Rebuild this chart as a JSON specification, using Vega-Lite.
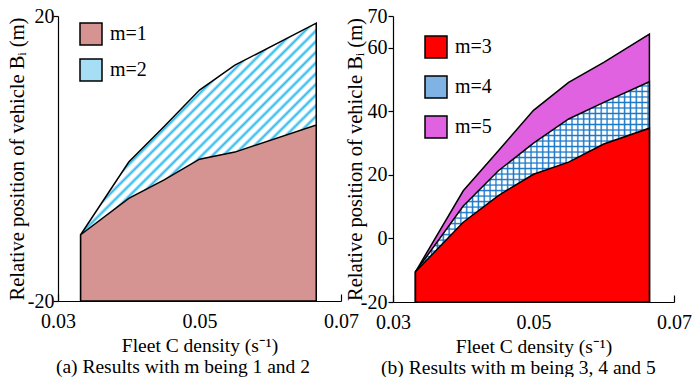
{
"$schema": "https://vega.github.io/schema/vega-lite/v6.json",
"background": "white",
"padding": {"left": 7, "top": 6, "right": 0, "bottom": 0},
"bounds": "flush",
"spacing": 52,
"config": {
 "font": "Liberation Serif",
 "view": {"stroke": null},
 "axis": {"grid": false, "labelFont": "Liberation Serif", "labelFontSize": 20, "labelColor": "black", "titleFont": "Liberation Serif", "titleFontSize": 19.5, "titleFontWeight": "normal", "titleColor": "black", "domainColor": "black", "domainWidth": 1.2, "tickColor": "black", "tickWidth": 1.2},
 "legend": {"orient": "none", "padding": 0, "title": null, "symbolType": "square", "symbolSize": 484, "symbolStrokeColor": "black", "symbolStrokeWidth": 1.5, "symbolOpacity": 1, "labelFont": "Liberation Serif", "labelFontSize": 20, "labelColor": "black", "labelOffset": 7},
 "title": {"font": "Liberation Serif", "fontSize": 19.5, "fontWeight": "normal", "color": "black"}
},
"resolve": {"scale": {"color": "independent"}, "legend": {"color": "independent"}},
"datasets": {
 "a": [
  {"m":"m=1","x":0.0332,"y":-10.7},{"m":"m=1","x":0.04,"y":-5.6},{"m":"m=1","x":0.045,"y":-3.0},{"m":"m=1","x":0.05,"y":-0.1},{"m":"m=1","x":0.055,"y":0.9},{"m":"m=1","x":0.0665,"y":4.7},
  {"m":"m=2","x":0.0332,"y":-10.7},{"m":"m=2","x":0.04,"y":-0.5},{"m":"m=2","x":0.045,"y":4.5},{"m":"m=2","x":0.05,"y":9.6},{"m":"m=2","x":0.055,"y":13.1},{"m":"m=2","x":0.0665,"y":19.0}
 ],
 "b": [
  {"m":"m=3","x":0.0332,"y":-10.5},{"m":"m=3","x":0.04,"y":5.1},{"m":"m=3","x":0.045,"y":13.5},{"m":"m=3","x":0.05,"y":20.2},{"m":"m=3","x":0.055,"y":24.0},{"m":"m=3","x":0.06,"y":29.7},{"m":"m=3","x":0.0665,"y":34.7},
  {"m":"m=4","x":0.0332,"y":-10.5},{"m":"m=4","x":0.04,"y":10.2},{"m":"m=4","x":0.045,"y":21.3},{"m":"m=4","x":0.05,"y":30.0},{"m":"m=4","x":0.055,"y":37.6},{"m":"m=4","x":0.06,"y":42.8},{"m":"m=4","x":0.0665,"y":49.3},
  {"m":"m=5","x":0.0332,"y":-10.5},{"m":"m=5","x":0.04,"y":15.0},{"m":"m=5","x":0.045,"y":27.6},{"m":"m=5","x":0.05,"y":40.3},{"m":"m=5","x":0.055,"y":49.1},{"m":"m=5","x":0.06,"y":55.4},{"m":"m=5","x":0.0665,"y":64.3}
 ]
},
"hconcat": [
 {
  "width": 283, "height": 285,
  "data": {"name": "a"},
  "title": {"text": "(a) Results with m being 1 and 2", "orient": "bottom", "anchor": "middle", "frame": "bounds", "offset": 3, "font": "Liberation Serif", "fontSize": 19.5},
  "encoding": {
   "x": {"field": "x", "type": "quantitative", "scale": {"domain": [0.03, 0.07], "nice": false, "zero": false}, "axis": {"values": [0.03, 0.05, 0.07], "labelExpr": "format(datum.value, '.2f')", "tickSize": -7, "labelPadding": 17, "labelFlush": false, "labelOverlap": false, "labelFont": "Liberation Serif", "labelFontSize": 20, "titleFont": "Liberation Serif", "titleFontSize": 19.5, "title": "Fleet C density (s⁻¹)", "titlePadding": 5}},
   "y": {"field": "y", "type": "quantitative", "scale": {"domain": [-20, 20], "nice": false, "zero": false}, "axis": {"values": [-20, 20], "labelExpr": "'' + datum.value", "tickSize": 5, "labelPadding": -1, "labelFlush": false, "labelOverlap": false, "labelFont": "Liberation Serif", "labelFontSize": 20, "titleFont": "Liberation Serif", "titleFontSize": 20.5, "title": "Relative position of vehicle Bᵢ (m)", "titlePadding": 0}}
  },
  "layer": [
   {
    "transform": [{"filter": "datum.m === 'm=2'"}],
    "mark": {"type": "area", "stroke": "black", "strokeWidth": 1.5, "opacity": 1,
     "fill": {"gradient": "linear", "x1": 0, "y1": 0, "x2": 0.95, "y2": 1.12, "stops": [
      {"offset":0,"color":"#ffffff"},{"offset":0.008,"color":"#ffffff"},{"offset":0.014,"color":"#2ab8ee"},
      {"offset":0.02,"color":"#ffffff"},{"offset":0.028,"color":"#ffffff"},{"offset":0.034,"color":"#2ab8ee"},
      {"offset":0.04,"color":"#ffffff"},{"offset":0.048,"color":"#ffffff"},{"offset":0.054,"color":"#2ab8ee"},
      {"offset":0.06,"color":"#ffffff"},{"offset":0.068,"color":"#ffffff"},{"offset":0.074,"color":"#2ab8ee"},
      {"offset":0.08,"color":"#ffffff"},{"offset":0.088,"color":"#ffffff"},{"offset":0.094,"color":"#2ab8ee"},
      {"offset":0.1,"color":"#ffffff"},{"offset":0.108,"color":"#ffffff"},{"offset":0.114,"color":"#2ab8ee"},
      {"offset":0.12,"color":"#ffffff"},{"offset":0.128,"color":"#ffffff"},{"offset":0.134,"color":"#2ab8ee"},
      {"offset":0.14,"color":"#ffffff"},{"offset":0.148,"color":"#ffffff"},{"offset":0.154,"color":"#2ab8ee"},
      {"offset":0.16,"color":"#ffffff"},{"offset":0.168,"color":"#ffffff"},{"offset":0.174,"color":"#2ab8ee"},
      {"offset":0.18,"color":"#ffffff"},{"offset":0.188,"color":"#ffffff"},{"offset":0.194,"color":"#2ab8ee"},
      {"offset":0.2,"color":"#ffffff"},{"offset":0.208,"color":"#ffffff"},{"offset":0.214,"color":"#2ab8ee"},
      {"offset":0.22,"color":"#ffffff"},{"offset":0.228,"color":"#ffffff"},{"offset":0.234,"color":"#2ab8ee"},
      {"offset":0.24,"color":"#ffffff"},{"offset":0.248,"color":"#ffffff"},{"offset":0.254,"color":"#2ab8ee"},
      {"offset":0.26,"color":"#ffffff"},{"offset":0.268,"color":"#ffffff"},{"offset":0.274,"color":"#2ab8ee"},
      {"offset":0.28,"color":"#ffffff"},{"offset":0.288,"color":"#ffffff"},{"offset":0.294,"color":"#2ab8ee"},
      {"offset":0.3,"color":"#ffffff"},{"offset":0.308,"color":"#ffffff"},{"offset":0.314,"color":"#2ab8ee"},
      {"offset":0.32,"color":"#ffffff"},{"offset":0.328,"color":"#ffffff"},{"offset":0.334,"color":"#2ab8ee"},
      {"offset":0.34,"color":"#ffffff"},{"offset":0.348,"color":"#ffffff"},{"offset":0.354,"color":"#2ab8ee"},
      {"offset":0.36,"color":"#ffffff"},{"offset":0.368,"color":"#ffffff"},{"offset":0.374,"color":"#2ab8ee"},
      {"offset":0.38,"color":"#ffffff"},{"offset":0.388,"color":"#ffffff"},{"offset":0.394,"color":"#2ab8ee"},
      {"offset":0.4,"color":"#ffffff"},{"offset":0.408,"color":"#ffffff"},{"offset":0.414,"color":"#2ab8ee"},
      {"offset":0.42,"color":"#ffffff"},{"offset":0.428,"color":"#ffffff"},{"offset":0.434,"color":"#2ab8ee"},
      {"offset":0.44,"color":"#ffffff"},{"offset":0.448,"color":"#ffffff"},{"offset":0.454,"color":"#2ab8ee"},
      {"offset":0.46,"color":"#ffffff"},{"offset":0.468,"color":"#ffffff"},{"offset":0.474,"color":"#2ab8ee"},
      {"offset":0.48,"color":"#ffffff"},{"offset":0.488,"color":"#ffffff"},{"offset":0.494,"color":"#2ab8ee"},
      {"offset":0.5,"color":"#ffffff"},{"offset":0.508,"color":"#ffffff"},{"offset":0.514,"color":"#2ab8ee"},
      {"offset":0.52,"color":"#ffffff"},{"offset":0.528,"color":"#ffffff"},{"offset":0.534,"color":"#2ab8ee"},
      {"offset":0.54,"color":"#ffffff"},{"offset":0.548,"color":"#ffffff"},{"offset":0.554,"color":"#2ab8ee"},
      {"offset":0.56,"color":"#ffffff"},{"offset":0.568,"color":"#ffffff"},{"offset":0.574,"color":"#2ab8ee"},
      {"offset":0.58,"color":"#ffffff"},{"offset":0.588,"color":"#ffffff"},{"offset":0.594,"color":"#2ab8ee"},
      {"offset":0.6,"color":"#ffffff"},{"offset":0.608,"color":"#ffffff"},{"offset":0.614,"color":"#2ab8ee"},
      {"offset":0.62,"color":"#ffffff"},{"offset":0.628,"color":"#ffffff"},{"offset":0.634,"color":"#2ab8ee"},
      {"offset":0.64,"color":"#ffffff"},{"offset":0.648,"color":"#ffffff"},{"offset":0.654,"color":"#2ab8ee"},
      {"offset":0.66,"color":"#ffffff"},{"offset":0.668,"color":"#ffffff"},{"offset":0.674,"color":"#2ab8ee"},
      {"offset":0.68,"color":"#ffffff"},{"offset":0.688,"color":"#ffffff"},{"offset":0.694,"color":"#2ab8ee"},
      {"offset":0.7,"color":"#ffffff"},{"offset":0.708,"color":"#ffffff"},{"offset":0.714,"color":"#2ab8ee"},
      {"offset":0.72,"color":"#ffffff"},{"offset":0.728,"color":"#ffffff"},{"offset":0.734,"color":"#2ab8ee"},
      {"offset":0.74,"color":"#ffffff"},{"offset":0.748,"color":"#ffffff"},{"offset":0.754,"color":"#2ab8ee"},
      {"offset":0.76,"color":"#ffffff"},{"offset":0.768,"color":"#ffffff"},{"offset":0.774,"color":"#2ab8ee"},
      {"offset":0.78,"color":"#ffffff"},{"offset":0.788,"color":"#ffffff"},{"offset":0.794,"color":"#2ab8ee"},
      {"offset":0.8,"color":"#ffffff"},{"offset":0.808,"color":"#ffffff"},{"offset":0.814,"color":"#2ab8ee"},
      {"offset":0.82,"color":"#ffffff"},{"offset":0.828,"color":"#ffffff"},{"offset":0.834,"color":"#2ab8ee"},
      {"offset":0.84,"color":"#ffffff"},{"offset":0.848,"color":"#ffffff"},{"offset":0.854,"color":"#2ab8ee"},
      {"offset":0.86,"color":"#ffffff"},{"offset":0.868,"color":"#ffffff"},{"offset":0.874,"color":"#2ab8ee"},
      {"offset":0.88,"color":"#ffffff"},{"offset":0.888,"color":"#ffffff"},{"offset":0.894,"color":"#2ab8ee"},
      {"offset":0.9,"color":"#ffffff"},{"offset":0.908,"color":"#ffffff"},{"offset":0.914,"color":"#2ab8ee"},
      {"offset":0.92,"color":"#ffffff"},{"offset":0.928,"color":"#ffffff"},{"offset":0.934,"color":"#2ab8ee"},
      {"offset":0.94,"color":"#ffffff"},{"offset":0.948,"color":"#ffffff"},{"offset":0.954,"color":"#2ab8ee"},
      {"offset":0.96,"color":"#ffffff"},{"offset":0.968,"color":"#ffffff"},{"offset":0.974,"color":"#2ab8ee"},
      {"offset":0.98,"color":"#ffffff"},{"offset":0.988,"color":"#ffffff"},{"offset":0.994,"color":"#2ab8ee"},
      {"offset":1,"color":"#ffffff"}
     ]}},
    "encoding": {"y2": {"datum": -20}}
   },
   {
    "transform": [{"filter": "datum.m === 'm=1'"}],
    "mark": {"type": "area", "stroke": "black", "strokeWidth": 1.5, "opacity": 1},
    "encoding": {
     "y2": {"datum": -20},
     "color": {"field": "m", "type": "nominal", "scale": {"domain": ["m=1", "m=2"], "range": ["#d59491", "#a6def5"]},
      "legend": {"legendX": 21, "legendY": 6, "rowPadding": 8, "labelFont": "Liberation Serif", "labelFontSize": 20, "symbolStrokeColor": "black", "symbolStrokeWidth": 1.5}
     }
    }
   }
  ]
 },
 {
  "width": 281, "height": 286,
  "data": {"name": "b"},
  "title": {"text": "(b) Results with m being 3, 4 and 5", "orient": "bottom", "anchor": "middle", "frame": "bounds", "offset": 3, "font": "Liberation Serif", "fontSize": 19.5},
  "encoding": {
   "x": {"field": "x", "type": "quantitative", "scale": {"domain": [0.03, 0.07], "nice": false, "zero": false}, "axis": {"values": [0.03, 0.05, 0.07], "labelExpr": "format(datum.value, '.2f')", "tickSize": -7, "labelPadding": 17, "labelFlush": false, "labelOverlap": false, "labelFont": "Liberation Serif", "labelFontSize": 20, "titleFont": "Liberation Serif", "titleFontSize": 19.5, "title": "Fleet C density (s⁻¹)", "titlePadding": 5}},
   "y": {"field": "y", "type": "quantitative", "scale": {"domain": [-20, 70], "nice": false, "zero": false}, "axis": {"values": [-20, 0, 20, 40, 60, 70], "labelExpr": "'' + datum.value", "tickSize": 5, "labelPadding": 1, "labelFlush": false, "labelOverlap": false, "labelFont": "Liberation Serif", "labelFontSize": 20, "titleFont": "Liberation Serif", "titleFontSize": 20.5, "title": "Relative position of vehicle Bᵢ (m)", "titlePadding": -5}}
  },
  "layer": [
   {
    "transform": [{"filter": "datum.m === 'm=5'"}],
    "mark": {"type": "area", "fill": "#e062e0", "stroke": "black", "strokeWidth": 1.5, "opacity": 1},
    "encoding": {"y2": {"datum": -20}}
   },
   {
    "transform": [{"filter": "datum.m === 'm=4'"}],
    "mark": {"type": "area", "strokeWidth": 0, "opacity": 1,
     "fill": {"gradient": "linear", "x1": 0, "y1": 0, "x2": 1, "y2": 0, "stops": [
      {"offset":0,"color":"#ffffff"},{"offset":0.013,"color":"#ffffff"},{"offset":0.019,"color":"#1a78c8"},
      {"offset":0.025,"color":"#ffffff"},{"offset":0.038,"color":"#ffffff"},{"offset":0.044,"color":"#1a78c8"},
      {"offset":0.05,"color":"#ffffff"},{"offset":0.063,"color":"#ffffff"},{"offset":0.069,"color":"#1a78c8"},
      {"offset":0.075,"color":"#ffffff"},{"offset":0.088,"color":"#ffffff"},{"offset":0.094,"color":"#1a78c8"},
      {"offset":0.1,"color":"#ffffff"},{"offset":0.113,"color":"#ffffff"},{"offset":0.119,"color":"#1a78c8"},
      {"offset":0.125,"color":"#ffffff"},{"offset":0.138,"color":"#ffffff"},{"offset":0.144,"color":"#1a78c8"},
      {"offset":0.15,"color":"#ffffff"},{"offset":0.163,"color":"#ffffff"},{"offset":0.169,"color":"#1a78c8"},
      {"offset":0.175,"color":"#ffffff"},{"offset":0.188,"color":"#ffffff"},{"offset":0.194,"color":"#1a78c8"},
      {"offset":0.2,"color":"#ffffff"},{"offset":0.213,"color":"#ffffff"},{"offset":0.219,"color":"#1a78c8"},
      {"offset":0.225,"color":"#ffffff"},{"offset":0.238,"color":"#ffffff"},{"offset":0.244,"color":"#1a78c8"},
      {"offset":0.25,"color":"#ffffff"},{"offset":0.263,"color":"#ffffff"},{"offset":0.269,"color":"#1a78c8"},
      {"offset":0.275,"color":"#ffffff"},{"offset":0.288,"color":"#ffffff"},{"offset":0.294,"color":"#1a78c8"},
      {"offset":0.3,"color":"#ffffff"},{"offset":0.313,"color":"#ffffff"},{"offset":0.319,"color":"#1a78c8"},
      {"offset":0.325,"color":"#ffffff"},{"offset":0.338,"color":"#ffffff"},{"offset":0.344,"color":"#1a78c8"},
      {"offset":0.35,"color":"#ffffff"},{"offset":0.363,"color":"#ffffff"},{"offset":0.369,"color":"#1a78c8"},
      {"offset":0.375,"color":"#ffffff"},{"offset":0.388,"color":"#ffffff"},{"offset":0.394,"color":"#1a78c8"},
      {"offset":0.4,"color":"#ffffff"},{"offset":0.413,"color":"#ffffff"},{"offset":0.419,"color":"#1a78c8"},
      {"offset":0.425,"color":"#ffffff"},{"offset":0.438,"color":"#ffffff"},{"offset":0.444,"color":"#1a78c8"},
      {"offset":0.45,"color":"#ffffff"},{"offset":0.463,"color":"#ffffff"},{"offset":0.469,"color":"#1a78c8"},
      {"offset":0.475,"color":"#ffffff"},{"offset":0.488,"color":"#ffffff"},{"offset":0.494,"color":"#1a78c8"},
      {"offset":0.5,"color":"#ffffff"},{"offset":0.513,"color":"#ffffff"},{"offset":0.519,"color":"#1a78c8"},
      {"offset":0.525,"color":"#ffffff"},{"offset":0.538,"color":"#ffffff"},{"offset":0.544,"color":"#1a78c8"},
      {"offset":0.55,"color":"#ffffff"},{"offset":0.563,"color":"#ffffff"},{"offset":0.569,"color":"#1a78c8"},
      {"offset":0.575,"color":"#ffffff"},{"offset":0.588,"color":"#ffffff"},{"offset":0.594,"color":"#1a78c8"},
      {"offset":0.6,"color":"#ffffff"},{"offset":0.613,"color":"#ffffff"},{"offset":0.619,"color":"#1a78c8"},
      {"offset":0.625,"color":"#ffffff"},{"offset":0.638,"color":"#ffffff"},{"offset":0.644,"color":"#1a78c8"},
      {"offset":0.65,"color":"#ffffff"},{"offset":0.663,"color":"#ffffff"},{"offset":0.669,"color":"#1a78c8"},
      {"offset":0.675,"color":"#ffffff"},{"offset":0.688,"color":"#ffffff"},{"offset":0.694,"color":"#1a78c8"},
      {"offset":0.7,"color":"#ffffff"},{"offset":0.713,"color":"#ffffff"},{"offset":0.719,"color":"#1a78c8"},
      {"offset":0.725,"color":"#ffffff"},{"offset":0.738,"color":"#ffffff"},{"offset":0.744,"color":"#1a78c8"},
      {"offset":0.75,"color":"#ffffff"},{"offset":0.763,"color":"#ffffff"},{"offset":0.769,"color":"#1a78c8"},
      {"offset":0.775,"color":"#ffffff"},{"offset":0.788,"color":"#ffffff"},{"offset":0.794,"color":"#1a78c8"},
      {"offset":0.8,"color":"#ffffff"},{"offset":0.813,"color":"#ffffff"},{"offset":0.819,"color":"#1a78c8"},
      {"offset":0.825,"color":"#ffffff"},{"offset":0.838,"color":"#ffffff"},{"offset":0.844,"color":"#1a78c8"},
      {"offset":0.85,"color":"#ffffff"},{"offset":0.863,"color":"#ffffff"},{"offset":0.869,"color":"#1a78c8"},
      {"offset":0.875,"color":"#ffffff"},{"offset":0.888,"color":"#ffffff"},{"offset":0.894,"color":"#1a78c8"},
      {"offset":0.9,"color":"#ffffff"},{"offset":0.913,"color":"#ffffff"},{"offset":0.919,"color":"#1a78c8"},
      {"offset":0.925,"color":"#ffffff"},{"offset":0.938,"color":"#ffffff"},{"offset":0.944,"color":"#1a78c8"},
      {"offset":0.95,"color":"#ffffff"},{"offset":0.963,"color":"#ffffff"},{"offset":0.969,"color":"#1a78c8"},
      {"offset":0.975,"color":"#ffffff"},{"offset":0.988,"color":"#ffffff"},{"offset":0.994,"color":"#1a78c8"},
      {"offset":1,"color":"#ffffff"}
     ]}},
    "encoding": {"y2": {"datum": -20}}
   },
   {
    "transform": [{"filter": "datum.m === 'm=4'"}],
    "mark": {"type": "area", "stroke": "black", "strokeWidth": 1.5, "opacity": 1,
     "fill": {"gradient": "linear", "x1": 0, "y1": 0, "x2": 0, "y2": 1, "stops": [
      {"offset":0,"color":"rgba(26,120,200,0)"},{"offset":0.013,"color":"rgba(26,120,200,0)"},{"offset":0.019,"color":"#1a78c8"},
      {"offset":0.025,"color":"rgba(26,120,200,0)"},{"offset":0.038,"color":"rgba(26,120,200,0)"},{"offset":0.044,"color":"#1a78c8"},
      {"offset":0.05,"color":"rgba(26,120,200,0)"},{"offset":0.063,"color":"rgba(26,120,200,0)"},{"offset":0.069,"color":"#1a78c8"},
      {"offset":0.075,"color":"rgba(26,120,200,0)"},{"offset":0.088,"color":"rgba(26,120,200,0)"},{"offset":0.094,"color":"#1a78c8"},
      {"offset":0.1,"color":"rgba(26,120,200,0)"},{"offset":0.113,"color":"rgba(26,120,200,0)"},{"offset":0.119,"color":"#1a78c8"},
      {"offset":0.125,"color":"rgba(26,120,200,0)"},{"offset":0.138,"color":"rgba(26,120,200,0)"},{"offset":0.144,"color":"#1a78c8"},
      {"offset":0.15,"color":"rgba(26,120,200,0)"},{"offset":0.163,"color":"rgba(26,120,200,0)"},{"offset":0.169,"color":"#1a78c8"},
      {"offset":0.175,"color":"rgba(26,120,200,0)"},{"offset":0.188,"color":"rgba(26,120,200,0)"},{"offset":0.194,"color":"#1a78c8"},
      {"offset":0.2,"color":"rgba(26,120,200,0)"},{"offset":0.213,"color":"rgba(26,120,200,0)"},{"offset":0.219,"color":"#1a78c8"},
      {"offset":0.225,"color":"rgba(26,120,200,0)"},{"offset":0.238,"color":"rgba(26,120,200,0)"},{"offset":0.244,"color":"#1a78c8"},
      {"offset":0.25,"color":"rgba(26,120,200,0)"},{"offset":0.263,"color":"rgba(26,120,200,0)"},{"offset":0.269,"color":"#1a78c8"},
      {"offset":0.275,"color":"rgba(26,120,200,0)"},{"offset":0.288,"color":"rgba(26,120,200,0)"},{"offset":0.294,"color":"#1a78c8"},
      {"offset":0.3,"color":"rgba(26,120,200,0)"},{"offset":0.313,"color":"rgba(26,120,200,0)"},{"offset":0.319,"color":"#1a78c8"},
      {"offset":0.325,"color":"rgba(26,120,200,0)"},{"offset":0.338,"color":"rgba(26,120,200,0)"},{"offset":0.344,"color":"#1a78c8"},
      {"offset":0.35,"color":"rgba(26,120,200,0)"},{"offset":0.363,"color":"rgba(26,120,200,0)"},{"offset":0.369,"color":"#1a78c8"},
      {"offset":0.375,"color":"rgba(26,120,200,0)"},{"offset":0.388,"color":"rgba(26,120,200,0)"},{"offset":0.394,"color":"#1a78c8"},
      {"offset":0.4,"color":"rgba(26,120,200,0)"},{"offset":0.413,"color":"rgba(26,120,200,0)"},{"offset":0.419,"color":"#1a78c8"},
      {"offset":0.425,"color":"rgba(26,120,200,0)"},{"offset":0.438,"color":"rgba(26,120,200,0)"},{"offset":0.444,"color":"#1a78c8"},
      {"offset":0.45,"color":"rgba(26,120,200,0)"},{"offset":0.463,"color":"rgba(26,120,200,0)"},{"offset":0.469,"color":"#1a78c8"},
      {"offset":0.475,"color":"rgba(26,120,200,0)"},{"offset":0.488,"color":"rgba(26,120,200,0)"},{"offset":0.494,"color":"#1a78c8"},
      {"offset":0.5,"color":"rgba(26,120,200,0)"},{"offset":0.513,"color":"rgba(26,120,200,0)"},{"offset":0.519,"color":"#1a78c8"},
      {"offset":0.525,"color":"rgba(26,120,200,0)"},{"offset":0.538,"color":"rgba(26,120,200,0)"},{"offset":0.544,"color":"#1a78c8"},
      {"offset":0.55,"color":"rgba(26,120,200,0)"},{"offset":0.563,"color":"rgba(26,120,200,0)"},{"offset":0.569,"color":"#1a78c8"},
      {"offset":0.575,"color":"rgba(26,120,200,0)"},{"offset":0.588,"color":"rgba(26,120,200,0)"},{"offset":0.594,"color":"#1a78c8"},
      {"offset":0.6,"color":"rgba(26,120,200,0)"},{"offset":0.613,"color":"rgba(26,120,200,0)"},{"offset":0.619,"color":"#1a78c8"},
      {"offset":0.625,"color":"rgba(26,120,200,0)"},{"offset":0.638,"color":"rgba(26,120,200,0)"},{"offset":0.644,"color":"#1a78c8"},
      {"offset":0.65,"color":"rgba(26,120,200,0)"},{"offset":0.663,"color":"rgba(26,120,200,0)"},{"offset":0.669,"color":"#1a78c8"},
      {"offset":0.675,"color":"rgba(26,120,200,0)"},{"offset":0.688,"color":"rgba(26,120,200,0)"},{"offset":0.694,"color":"#1a78c8"},
      {"offset":0.7,"color":"rgba(26,120,200,0)"},{"offset":0.713,"color":"rgba(26,120,200,0)"},{"offset":0.719,"color":"#1a78c8"},
      {"offset":0.725,"color":"rgba(26,120,200,0)"},{"offset":0.738,"color":"rgba(26,120,200,0)"},{"offset":0.744,"color":"#1a78c8"},
      {"offset":0.75,"color":"rgba(26,120,200,0)"},{"offset":0.763,"color":"rgba(26,120,200,0)"},{"offset":0.769,"color":"#1a78c8"},
      {"offset":0.775,"color":"rgba(26,120,200,0)"},{"offset":0.788,"color":"rgba(26,120,200,0)"},{"offset":0.794,"color":"#1a78c8"},
      {"offset":0.8,"color":"rgba(26,120,200,0)"},{"offset":0.813,"color":"rgba(26,120,200,0)"},{"offset":0.819,"color":"#1a78c8"},
      {"offset":0.825,"color":"rgba(26,120,200,0)"},{"offset":0.838,"color":"rgba(26,120,200,0)"},{"offset":0.844,"color":"#1a78c8"},
      {"offset":0.85,"color":"rgba(26,120,200,0)"},{"offset":0.863,"color":"rgba(26,120,200,0)"},{"offset":0.869,"color":"#1a78c8"},
      {"offset":0.875,"color":"rgba(26,120,200,0)"},{"offset":0.888,"color":"rgba(26,120,200,0)"},{"offset":0.894,"color":"#1a78c8"},
      {"offset":0.9,"color":"rgba(26,120,200,0)"},{"offset":0.913,"color":"rgba(26,120,200,0)"},{"offset":0.919,"color":"#1a78c8"},
      {"offset":0.925,"color":"rgba(26,120,200,0)"},{"offset":0.938,"color":"rgba(26,120,200,0)"},{"offset":0.944,"color":"#1a78c8"},
      {"offset":0.95,"color":"rgba(26,120,200,0)"},{"offset":0.963,"color":"rgba(26,120,200,0)"},{"offset":0.969,"color":"#1a78c8"},
      {"offset":0.975,"color":"rgba(26,120,200,0)"},{"offset":0.988,"color":"rgba(26,120,200,0)"},{"offset":0.994,"color":"#1a78c8"},
      {"offset":1,"color":"rgba(26,120,200,0)"}
     ]}},
    "encoding": {"y2": {"datum": -20}}
   },
   {
    "transform": [{"filter": "datum.m === 'm=3'"}],
    "mark": {"type": "area", "stroke": "black", "strokeWidth": 1.5, "opacity": 1},
    "encoding": {
     "y2": {"datum": -20},
     "color": {"field": "m", "type": "nominal", "scale": {"domain": ["m=3", "m=4", "m=5"], "range": ["#ff0000", "#7fb3e3", "#e062e0"]},
      "legend": {"legendX": 31, "legendY": 19, "rowPadding": 12, "labelFont": "Liberation Serif", "labelFontSize": 20, "symbolStrokeColor": "black", "symbolStrokeWidth": 1.5}
     }
    }
   }
  ]
 }
]
}
